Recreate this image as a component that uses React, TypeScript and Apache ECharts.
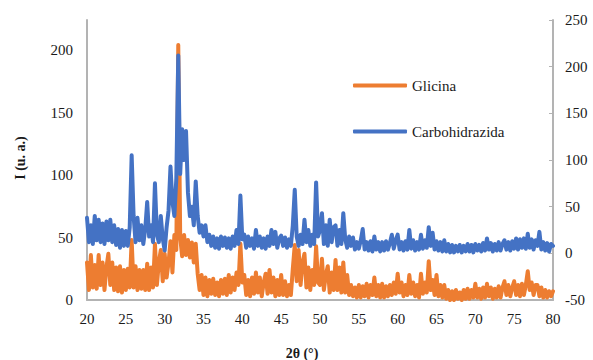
import React, { useEffect, useRef } from "react";
import * as echarts from "echarts";

// 2θ sampling grid (degrees)
const THETA_START = 20;
const THETA_STEP = 0.25;

// Glicina intensity (left axis, u. a.), one row per degree: x.00, x.25, x.50, x.75
const glicina: number[] = [
  30, 8, 36, 10, // 20
  28, 9, 36, 12, // 21
  30, 8, 26, 37, // 22
  12, 30, 8, 26, // 23
  7, 27, 6, 24, // 24
  8, 25, 10, 48, // 25
  10, 27, 8, 24, // 26
  9, 24, 8, 29, // 27
  8, 26, 10, 45, // 28
  12, 30, 40, 15, // 29
  37, 18, 30, 47, // 30
  22, 52, 40, 204, // 31
  50, 35, 52, 36, // 32
  48, 34, 46, 30, // 33
  45, 21, 8, 20, // 34
  4, 18, 3, 16, // 35
  5, 17, 4, 14, // 36
  3, 16, 5, 17, // 37
  4, 20, 6, 18, // 38
  8, 22, 12, 45, // 39
  14, 20, 4, 16, // 40
  3, 18, 5, 22, // 41
  6, 18, 3, 14, // 42
  21, 5, 24, 6, // 43
  18, 3, 16, 4, // 44
  20, 4, 15, 3, // 45
  12, 4, 25, 44, // 46
  15, 40, 12, 30, // 47
  37, 10, 26, 8, // 48
  24, 12, 43, 14, // 49
  12, 33, 8, 20, // 50
  27, 6, 22, 8, // 51
  32, 8, 26, 6, // 52
  30, 6, 20, 4, // 53
  12, 3, 10, 2, // 54
  12, 2, 11, 3, // 55
  13, 2, 12, 4, // 56
  18, 3, 12, 2, // 57
  13, 2, 11, 3, // 58
  12, 4, 14, 5, // 59
  21, 6, 14, 3, // 60
  12, 4, 20, 5, // 61
  14, 3, 12, 2, // 62
  21, 5, 14, 6, // 63
  31, 8, 16, 4, // 64
  20, 3, 12, 2, // 65
  12, 1, 8, 0, // 66
  7, 0, 8, 1, // 67
  6, 0, 8, 1, // 68
  9, 1, 8, 2, // 69
  13, 2, 9, 1, // 70
  10, 2, 13, 3, // 71
  10, 1, 9, 2, // 72
  11, 2, 10, 15, // 73
  4, 12, 3, 10, // 74
  15, 4, 12, 3, // 75
  13, 4, 12, 23, // 76
  8, 14, 4, 12, // 77
  12, 3, 10, 2, // 78
  8, 2, 7, 3, // 79
  7, // 80
];

// Carbohidrazida intensity (right axis, u. a.)
const carbohidrazida: number[] = [
  38, 12, 30, 10, // 20
  40, 14, 36, 12, // 21
  32, 10, 34, 14, // 22
  36, 12, 30, 9, // 23
  26, 6, 25, 8, // 24
  24, 8, 28, 105, // 25
  40, 12, 38, 14, // 26
  30, 10, 26, 55, // 27
  18, 30, 12, 75, // 28
  20, 12, 40, 16, // 29
  3, 28, 46, 93, // 30
  55, 40, 80, 212, // 31
  85, 133, 100, 131, // 32
  65, 40, 50, 30, // 33
  77, 40, 22, 30, // 34
  18, 30, 12, 20, // 35
  8, 18, 6, 16, // 36
  5, 18, 8, 17, // 37
  6, 16, 5, 18, // 38
  8, 25, 10, 62, // 39
  15, 20, 6, 18, // 40
  8, 16, 5, 25, // 41
  8, 18, 6, 16, // 42
  5, 18, 8, 25, // 43
  10, 23, 6, 16, // 44
  19, 8, 17, 6, // 45
  15, 8, 30, 68, // 46
  18, 8, 20, 10, // 47
  36, 12, 25, 8, // 48
  20, 10, 76, 18, // 49
  25, 43, 10, 30, // 50
  8, 36, 12, 28, // 51
  30, 8, 25, 10, // 52
  43, 15, 6, 18, // 53
  8, 17, 4, 12, // 54
  5, 14, 26, 4, // 55
  12, 3, 13, 2, // 56
  18, 4, 12, 2, // 57
  12, 3, 13, 4, // 58
  11, 20, 5, 14, // 59
  20, 4, 12, 3, // 60
  13, 4, 25, 5, // 61
  14, 3, 12, 4, // 62
  20, 5, 14, 6, // 63
  28, 8, 22, 4, // 64
  13, 3, 12, 2, // 65
  14, 2, 10, 1, // 66
  9, 1, 8, 2, // 67
  9, 1, 8, 2, // 68
  10, 2, 9, 1, // 69
  10, 3, 9, 2, // 70
  11, 3, 16, 4, // 71
  11, 2, 10, 3, // 72
  12, 3, 10, 14, // 73
  4, 12, 3, 13, // 74
  5, 16, 4, 15, // 75
  6, 16, 5, 21, // 76
  6, 15, 4, 14, // 77
  8, 23, 4, 12, // 78
  3, 11, 2, 10, // 79
  8, // 80
];

const seriesNames = ["Glicina", "Carbohidrazida"];
const colors = ["#ED7D31", "#4472C4"];
const xTitle = "2θ (°)";
const yTitle = "I (u. a.)";

const FONT = "Times New Roman, Liberation Serif, serif";
const TEXT = "#1a1a1a";
const AXIS = "#b3b3b3";

function toPairs(values: number[]): [number, number][] {
  return values.map((v, i) => [THETA_START + i * THETA_STEP, v]);
}

export default function App() {
  const ref = useRef<HTMLDivElement>(null);
  useEffect(() => {
    if (!ref.current) return;
    const chart = echarts.init(ref.current, undefined, { renderer: "svg" });
    const axisLine = { show: true, lineStyle: { color: AXIS, width: 2 } };
    const label = { fontFamily: FONT, fontSize: 15, color: TEXT };
    chart.setOption({
      animation: false,
      backgroundColor: "#ffffff",
      textStyle: { fontFamily: FONT },
      grid: { left: 87, right: 40, top: 20, bottom: 60 },
      legend: {
        orient: "vertical",
        left: 353,
        top: 77,
        padding: 0,
        itemWidth: 54,
        itemHeight: 4,
        itemGap: 29,
        icon: "roundRect",
        textStyle: { ...label, lineHeight: 17 },
        data: seriesNames.map((n, i) => ({
          name: n,
          icon: "roundRect",
          itemStyle: { color: colors[i] },
        })),
      },
      xAxis: {
        type: "value",
        min: 20,
        max: 80,
        interval: 5,
        axisLine,
        axisTick: { show: false },
        splitLine: { show: false },
        axisLabel: { ...label, margin: 11 },
      },
      yAxis: [
        {
          type: "value",
          min: 0,
          max: 224,
          interval: 50,
          axisLine,
          axisTick: { show: false },
          splitLine: { show: false },
          axisLabel: {
            ...label,
            margin: 14,
            formatter: (v: number) => (v % 50 === 0 ? String(v) : ""),
          },
        },
        {
          type: "value",
          min: -50,
          max: 250,
          interval: 50,
          position: "right",
          axisLine,
          axisTick: { show: true, inside: true, length: 4, lineStyle: { color: AXIS, width: 1 } },
          splitLine: { show: false },
          axisLabel: { ...label, margin: 12 },
        },
      ],
      graphic: [
        {
          type: "text",
          x: 302,
          y: 353,
          style: {
            text: xTitle,
            fontFamily: FONT,
            fontSize: 14,
            fontWeight: "bold",
            fill: TEXT,
            align: "center",
            verticalAlign: "middle",
          },
        },
        {
          type: "text",
          x: 20,
          y: 158,
          rotation: Math.PI / 2,
          style: {
            text: yTitle,
            fontFamily: FONT,
            fontSize: 14,
            fontWeight: "bold",
            fill: TEXT,
            align: "center",
            verticalAlign: "middle",
          },
        },
      ],
      series: [
        {
          name: seriesNames[0],
          type: "line",
          yAxisIndex: 0,
          data: toPairs(glicina),
          symbol: "none",
          showSymbol: false,
          color: colors[0],
          lineStyle: { width: 4, color: colors[0], join: "round", cap: "round" },
          z: 2,
        },
        {
          name: seriesNames[1],
          type: "line",
          yAxisIndex: 1,
          data: toPairs(carbohidrazida),
          symbol: "none",
          showSymbol: false,
          color: colors[1],
          lineStyle: { width: 4, color: colors[1], join: "round", cap: "round" },
          z: 3,
        },
      ],
    });
    return () => chart.dispose();
  }, []);
  return (
    <div
      ref={ref}
      style={{ position: "fixed", left: 0, top: 0, width: 593, height: 360 }}
    />
  );
}
